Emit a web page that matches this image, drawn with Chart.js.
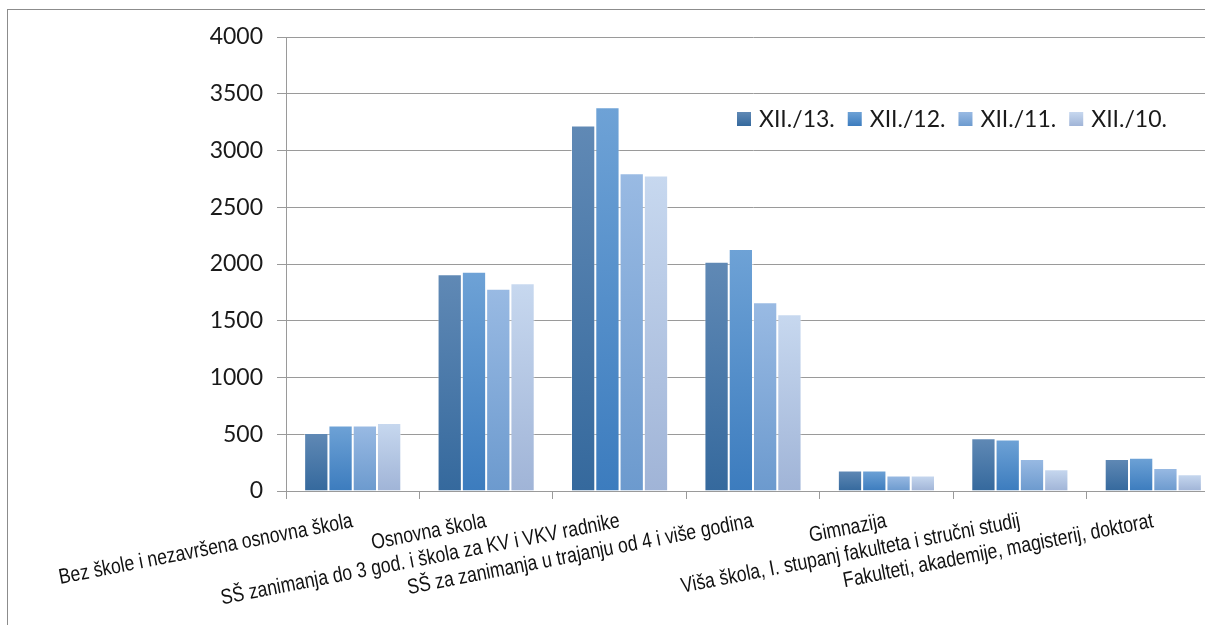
<!DOCTYPE html>
<html>
<head>
<meta charset="utf-8">
<script src="https://cdn.jsdelivr.net/npm/chart.js@4/dist/chart.umd.min.js"></script>
<style>
  html, body { margin: 0; padding: 0; background: #fff; overflow: hidden; width: 1205px; height: 625px; }
  #frame { position: absolute; left: 7px; top: 9px; width: 1300px; height: 700px; border: 1px solid #8c8c8c; box-sizing: border-box; }
  #wrap { position: absolute; left: 0; top: 0; width: 1240px; height: 625px; }
</style>
</head>
<body>
<div id="frame"></div>
<div id="wrap"><canvas id="chart" width="1240" height="625"></canvas></div>
<script>
// Education level categories
const categories = [
  'Bez škole i nezavršena osnovna škola',
  'Osnovna škola',
  'SŠ zanimanja do 3 god. i škola za KV i VKV radnike',
  'SŠ za zanimanja u trajanju od 4 i više godina',
  'Gimnazija',
  'Viša škola, I. stupanj fakulteta i stručni studij',
  'Fakulteti, akademije, magisterij, doktorat'
];

// Series labels (month/year)
const seriesLabels = ['XII./13.', 'XII./12.', 'XII./11.', 'XII./10.'];

// Values per series
const xii13 = [510, 1910, 3220, 2020, 180, 465, 282];
const xii12 = [578, 1932, 3380, 2133, 180, 453, 293];
const xii11 = [578, 1782, 2800, 1662, 137, 283, 203];
const xii10 = [600, 1830, 2780, 1557, 137, 192, 147];

// Y axis ticks
const yTicks = [0, 500, 1000, 1500, 2000, 2500, 3000, 3500, 4000];

// Gradient stops (top, bottom) per series
const palette = [
  ['#6089b5', '#35699d'],
  ['#6ea2d6', '#3c7cbe'],
  ['#99bae3', '#6c9ace'],
  ['#c7d8ef', '#a0b4d7']
];

function barFill(top, bottom) {
  return (ctx) => {
    const chart = ctx.chart;
    const area = chart.chartArea;
    if (!area || ctx.type !== 'data') return bottom;
    const y = chart.scales.y;
    const y0 = y.getPixelForValue(ctx.raw);
    const y1 = y.getPixelForValue(0);
    if (!isFinite(y0) || !isFinite(y1) || y1 - y0 < 1) return bottom;
    const g = chart.ctx.createLinearGradient(0, y0, 0, y1);
    g.addColorStop(0, top);
    g.addColorStop(1, bottom);
    return g;
  };
}

const seriesValues = [xii13, xii12, xii11, xii10];

const datasets = seriesValues.map((vals, i) => ({
  label: seriesLabels[i],
  data: vals,
  backgroundColor: barFill(palette[i][0], palette[i][1]),
  borderColor: 'rgba(255,255,255,0.45)',
  borderWidth: 1,
  barPercentage: 1.0,
  categoryPercentage: 0.728
}));

const tickFont = { family: 'Lato, "Liberation Sans", sans-serif', size: 23 };
const catFontFamily = '"Liberation Sans", Arial, sans-serif';
const catFontSize = 21.5;
const catAngle = -11 * Math.PI / 180;
const catSquash = 0.82; // narrow face

// Category labels: condensed, tilted, right end at the category centre
const condensedLabels = {
  id: 'condensedLabels',
  afterDraw(chart) {
    const ctx = chart.ctx;
    const xs = chart.scales.x;
    ctx.save();
    ctx.font = `${catFontSize}px ${catFontFamily}`;
    ctx.fillStyle = '#111';
    ctx.textAlign = 'right';
    ctx.textBaseline = 'alphabetic';
    chart.data.labels.forEach((lab, i) => {
      const x = xs.getPixelForTick(i) + 1;
      const y = xs.top + 36;
      ctx.save();
      ctx.translate(x, y);
      ctx.rotate(catAngle);
      ctx.scale(catSquash, 1);
      ctx.fillText(lab, 0, 0);
      ctx.restore();
    });
    ctx.restore();
  }
};

// Legend drawn inside the plot area, one row
const insideLegend = {
  id: 'insideLegend',
  afterDraw(chart) {
    const ctx = chart.ctx;
    const area = chart.chartArea;
    let x = area.left + 451;
    const cy = area.top + 82;
    const sq = 14;
    ctx.save();
    ctx.font = `${tickFont.size}px ${tickFont.family}`;
    ctx.textBaseline = 'middle';
    ctx.textAlign = 'left';
    chart.data.datasets.forEach((ds, i) => {
      const g = ctx.createLinearGradient(0, cy - sq / 2, 0, cy + sq / 2);
      g.addColorStop(0, palette[i][0]);
      g.addColorStop(1, palette[i][1]);
      ctx.fillStyle = g;
      ctx.fillRect(x, cy - sq / 2, sq, sq);
      ctx.fillStyle = '#1a1a1a';
      const tx = x + sq + 8;
      ctx.fillText(ds.label, tx, cy + 1);
      x = tx + ctx.measureText(ds.label).width + 13;
    });
    ctx.restore();
  }
};

new Chart(document.getElementById('chart'), {
  type: 'bar',
  data: { labels: categories, datasets },
  plugins: [insideLegend, condensedLabels],
  options: {
    responsive: false,
    animation: false,
    layout: { padding: { left: 0, right: 20, top: 37, bottom: 0 } },
    plugins: {
      legend: { display: false },
      tooltip: { enabled: false }
    },
    scales: {
      x: {
        offset: true,
        grid: {
          display: true,
          offset: true,
          drawOnChartArea: false,
          drawTicks: true,
          tickLength: 8,
          color: '#9a9a9a',
          tickColor: '#9a9a9a'
        },
        border: { display: true, color: '#9a9a9a' },
        ticks: { display: false, autoSkip: false },
        afterFit(scale) { scale.height = 134; }
      },
      y: {
        min: 0,
        max: 4000,
        afterBuildTicks(scale) { scale.ticks = yTicks.map(v => ({ value: v })); },
        grid: {
          color: '#9a9a9a',
          tickColor: '#9a9a9a',
          tickLength: 9,
          lineWidth: 1
        },
        border: { display: true, color: '#9a9a9a' },
        ticks: {
          padding: 14,
          color: '#1a1a1a',
          font: tickFont,
          callback: (v) => String(v)
        },
        afterFit(scale) { scale.width = 286; }
      }
    }
  }
});
</script>
</body>
</html>
